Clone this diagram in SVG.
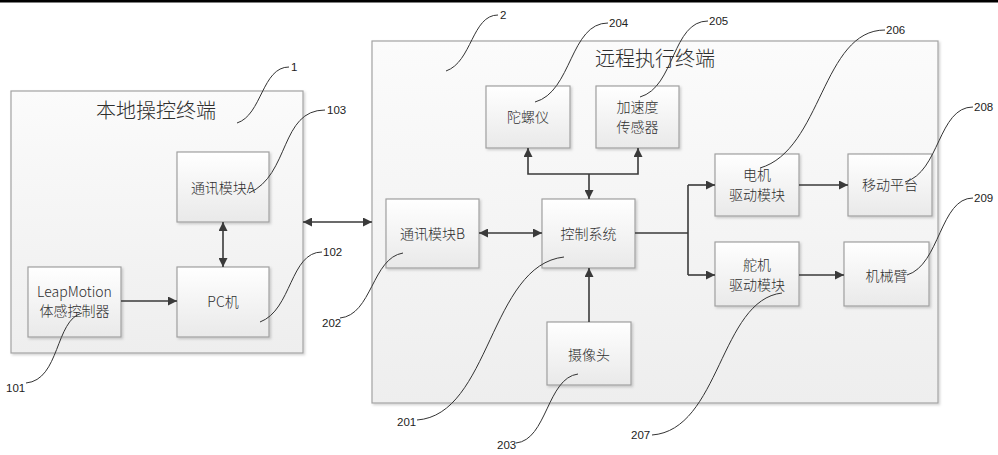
<svg xmlns="http://www.w3.org/2000/svg" width="998" height="455" viewBox="0 0 998 455">
<defs>
<linearGradient id="gBox" x1="0" y1="0" x2="0" y2="1">
<stop offset="0" stop-color="#ffffff"/>
<stop offset="1" stop-color="#e9e9e9"/>
</linearGradient>
<linearGradient id="gCont" x1="0" y1="0" x2="0" y2="1">
<stop offset="0" stop-color="#fbfbfb"/>
<stop offset="1" stop-color="#eeeeee"/>
</linearGradient>
<filter id="sh" x="-10%" y="-10%" width="130%" height="130%">
<feDropShadow dx="1.5" dy="1.5" stdDeviation="1" flood-color="#000" flood-opacity="0.18"/>
</filter>
<marker id="ah" viewBox="0 0 10 10" refX="10" refY="5" markerWidth="11" markerHeight="9" markerUnits="userSpaceOnUse" orient="auto-start-reverse">
<path d="M0,0 L10,5 L0,10 z" fill="#3a3a3a"/>
</marker>
</defs>
<style>
.cont{fill:url(#gCont);stroke:#a3a3a3;stroke-width:1.2;filter:url(#sh)}
.box{fill:url(#gBox);stroke:#a0a0a0;stroke-width:1.2;filter:url(#sh)}
.t{font-family:"Noto Sans CJK SC","Noto Sans",sans-serif;font-size:14px;font-weight:300;fill:#2e2e2e;text-anchor:middle}
.title{font-family:"Noto Sans CJK SC","Noto Sans",sans-serif;font-size:20px;font-weight:300;fill:#2e2e2e;text-anchor:middle}
.num{font-family:"Liberation Sans","Noto Sans",sans-serif;font-size:11.5px;fill:#222}
.c{fill:none;stroke:#3a3a3a;stroke-width:1.6}
.ld{fill:none;stroke:#333;stroke-width:1}
</style>
<rect x="0" y="0" width="998" height="455" fill="#ffffff"/>
<rect x="0" y="0" width="998" height="2.5" fill="#000"/>

<g id="local-terminal">
<rect class="cont" x="11" y="91" width="292" height="262"/>
<text class="title" x="156" y="118">本地操控终端</text>
</g>
<g id="remote-terminal">
<rect class="cont" x="372" y="41" width="566" height="362"/>
<text class="title" x="655" y="66">远程执行终端</text>
</g>

<g id="comm-a">
<rect class="box" x="177" y="152" width="92" height="70"/>
<text class="t" x="223" y="193">通讯模块A</text>
</g>
<g id="pc">
<rect class="box" x="177" y="267" width="92" height="70"/>
<text class="t" x="223" y="307">PC机</text>
</g>
<g id="leapmotion">
<rect class="box" x="28" y="267" width="93" height="70"/>
<text class="t" x="74.5" y="297">LeapMotion</text>
<text class="t" x="74.5" y="316">体感控制器</text>
</g>

<g id="gyro">
<rect class="box" x="486" y="86" width="84" height="62"/>
<text class="t" x="528" y="122">陀螺仪</text>
</g>
<g id="accel">
<rect class="box" x="596" y="86" width="83" height="62"/>
<text class="t" x="637.5" y="112">加速度</text>
<text class="t" x="637.5" y="132">传感器</text>
</g>
<g id="comm-b">
<rect class="box" x="386" y="199" width="93" height="69"/>
<text class="t" x="432.5" y="239">通讯模块B</text>
</g>
<g id="control">
<rect class="box" x="542" y="199" width="93" height="69"/>
<text class="t" x="588.5" y="239">控制系统</text>
</g>
<g id="camera">
<rect class="box" x="547" y="322" width="84" height="63"/>
<text class="t" x="589" y="360">摄像头</text>
</g>
<g id="motor-drive">
<rect class="box" x="715" y="154" width="84" height="62"/>
<text class="t" x="757" y="180">电机</text>
<text class="t" x="757" y="200">驱动模块</text>
</g>
<g id="servo-drive">
<rect class="box" x="715" y="242" width="84" height="64"/>
<text class="t" x="757" y="270">舵机</text>
<text class="t" x="757" y="290">驱动模块</text>
</g>
<g id="mobile-platform">
<rect class="box" x="848" y="154" width="84" height="62"/>
<text class="t" x="890" y="190">移动平台</text>
</g>
<g id="arm">
<rect class="box" x="844" y="242" width="85" height="64"/>
<text class="t" x="886.5" y="281">机械臂</text>
</g>

<g id="connectors">
<path class="c" d="M223,222 V267" marker-start="url(#ah)" marker-end="url(#ah)"/>
<path class="c" d="M121,301 H177" marker-end="url(#ah)"/>
<path class="c" d="M303,222 H372" marker-start="url(#ah)" marker-end="url(#ah)"/>
<path class="c" d="M479,233 H542" marker-start="url(#ah)" marker-end="url(#ah)"/>
<path class="c" d="M589,322 V268" marker-end="url(#ah)"/>
<path class="c" d="M528,148 V174 H638 V148" marker-start="url(#ah)" marker-end="url(#ah)"/>
<path class="c" d="M589,174 V199" marker-end="url(#ah)"/>
<path class="c" d="M635,233 H688"/>
<path class="c" d="M688,185 V275"/>
<path class="c" d="M688,185 H715" marker-end="url(#ah)"/>
<path class="c" d="M688,275 H715" marker-end="url(#ah)"/>
<path class="c" d="M799,185 H848" marker-end="url(#ah)"/>
<path class="c" d="M799,275 H844" marker-end="url(#ah)"/>
</g>

<g id="leaders">
<path class="ld" d="M237,123 C262,115 262,67 289,67"/>
<path class="ld" d="M249,193 C290,175 280,110 325,110"/>
<path class="ld" d="M260,322 C292,310 290,252 322,252"/>
<path class="ld" d="M82,313 C55,320 60,380 26,383"/>
<path class="ld" d="M446,71 C472,62 472,15 498,15"/>
<path class="ld" d="M535,102 C572,92 570,23 608,23"/>
<path class="ld" d="M640,97 C675,87 672,21 708,21"/>
<path class="ld" d="M760,168 C822,150 822,30 885,30"/>
<path class="ld" d="M905,182 C940,172 938,107 973,107"/>
<path class="ld" d="M907,275 C940,265 940,198 973,198"/>
<path class="ld" d="M782,293 C720,300 720,430 652,435"/>
<path class="ld" d="M564,257 C490,265 490,415 417,420"/>
<path class="ld" d="M578,374 C547,378 547,440 516,443"/>
<path class="ld" d="M403,253 C372,258 372,315 340,318"/>
</g>

<g id="labels">
<text class="num" x="291" y="71">1</text>
<text class="num" x="327" y="114">103</text>
<text class="num" x="323" y="256">102</text>
<text class="num" x="6" y="392">101</text>
<text class="num" x="500" y="19">2</text>
<text class="num" x="609" y="27">204</text>
<text class="num" x="709" y="25">205</text>
<text class="num" x="886" y="34">206</text>
<text class="num" x="974" y="111">208</text>
<text class="num" x="974" y="202">209</text>
<text class="num" x="631" y="439">207</text>
<text class="num" x="397" y="426">201</text>
<text class="num" x="497" y="449">203</text>
<text class="num" x="322" y="327">202</text>
</g>
</svg>
